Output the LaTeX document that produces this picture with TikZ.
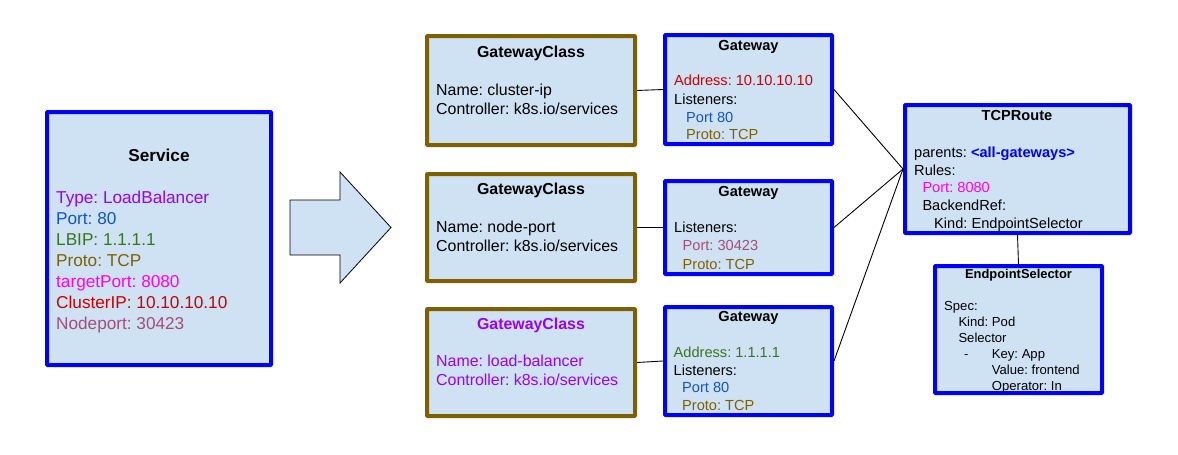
\documentclass[tikz,border=0pt]{standalone}
\usepackage{fontspec}
\setmainfont{Liberation Sans}
\frenchspacing
\newcommand\fSvc{\fontsize{17.2}{21}\selectfont}
\newcommand\fGC{\fontsize{15.9}{19}\selectfont}
\newcommand\fGW{\fontsize{14.6}{18}\selectfont}
\newcommand\fES{\fontsize{13.1}{16}\selectfont}
\newcommand\fESt{\fontsize{12.9}{16}\selectfont}
\definecolor{boxfill}{HTML}{CFE2F3}
\definecolor{bblue}{HTML}{0000FF}
\definecolor{bbrown}{HTML}{7F6000}
\definecolor{tpurple}{HTML}{9900FF}
\definecolor{tblue}{HTML}{1155CC}
\definecolor{tgreen}{HTML}{38761D}
\definecolor{tbrown}{HTML}{7F6000}
\definecolor{tmagenta}{HTML}{FF00FF}
\definecolor{tred}{HTML}{CC0000}
\definecolor{tmauve}{HTML}{A64D79}
\begin{document}
\begin{tikzpicture}[x=1pt,y=-1pt,
  bluebox/.style={draw=bblue, fill=boxfill, line width=4pt, inner sep=0pt, rounded corners=0.8pt},
  brownbox/.style={draw=bbrown, fill=boxfill, line width=4pt, inner sep=0pt, rounded corners=0.8pt},
  txt/.style={anchor=base west, inner sep=0pt},
  ttl/.style={anchor=base, inner sep=0pt, font=\bfseries},
  conn/.style={draw=black, line width=0.9pt}]
\useasboundingbox (0,0) rectangle (1178,455);

% boxes
\node[bluebox, minimum width=224pt, minimum height=253pt] (svc) at (159,238.5) {};
\node[brownbox, minimum width=208pt, minimum height=109pt] (gc1) at (531,90.5) {};
\node[brownbox, minimum width=208pt, minimum height=107pt] (gc2) at (531,227.5) {};
\node[brownbox, minimum width=208pt, minimum height=107pt] (gc3) at (531,362.5) {};
\node[bluebox, minimum width=167pt, minimum height=109pt] (gw1) at (748.5,89.5) {};
\node[bluebox, minimum width=167pt, minimum height=93pt] (gw2) at (748.5,227.5) {};
\node[bluebox, minimum width=167pt, minimum height=108pt] (gw3) at (748.5,361) {};
\node[bluebox, minimum width=225pt, minimum height=128pt] (tcp) at (1017.5,169) {};
\node[bluebox, minimum width=167pt, minimum height=127pt] (eps) at (1018.5,329.5) {};

% big arrow
\draw[fill=boxfill, draw=black, line width=0.8pt, line join=miter]
  (290,200) -- (340,200) -- (340,172) -- (391,227.5) -- (340,283) -- (340,255) -- (290,255) -- cycle;

% connectors
\draw[conn] (gc1.east) -- (gw1.west);
\draw[conn] (gc2.east) -- (gw2.west);
\draw[conn] (gc3.east) -- (gw3.west);
\draw[conn] (gw1.east) -- (tcp.west);
\draw[conn] (gw2.east) -- (tcp.west);
\draw[conn] (gw3.east) -- (tcp.west);
\draw[conn] (tcp.south) -- (eps.north);

% Service text
\node[ttl, font=\fSvc\bfseries] (svct) at (159,161.2) {Service};
\node[txt, font=\fSvc, text=tpurple] (svc1) at (56,203.5) {Type: LoadBalancer};
\node[txt, font=\fSvc, text=tblue] (svc2) at (56,224.5) {Port: 80};
\node[txt, font=\fSvc, text=tgreen] (svc3) at (56,245.5) {LBIP: 1.1.1.1};
\node[txt, font=\fSvc, text=tbrown] (svc4) at (56,266.5) {Proto: TCP};
\node[txt, font=\fSvc, text=tmagenta] (svc5) at (56,287.5) {targetPort: 8080};
\node[txt, font=\fSvc, text=tred] (svc6) at (56,308.5) {ClusterIP: 10.10.10.10};
\node[txt, font=\fSvc, text=tmauve] (svc7) at (56,329.5) {Nodeport: 30423};

% GatewayClass 1
\node[ttl, font=\fGC\bfseries] (gc1t) at (531,57.4) {GatewayClass};
\node[txt, font=\fGC] (gc1a) at (436,95.7) {Name: cluster-ip};
\node[txt, font=\fGC] (gc1b) at (436,114.7) {Controller: k8s.io/services};
% GatewayClass 2
\node[ttl, font=\fGC\bfseries] (gc2t) at (531,194) {GatewayClass};
\node[txt, font=\fGC] (gc2a) at (436,232.4) {Name: node-port};
\node[txt, font=\fGC] (gc2b) at (436,251.4) {Controller: k8s.io/services};
% GatewayClass 3
\node[ttl, font=\fGC\bfseries, text=tpurple] (gc3t) at (531,329) {GatewayClass};
\node[txt, font=\fGC, text=tpurple] (gc3a) at (436,366.7) {Name: load-balancer};
\node[txt, font=\fGC, text=tpurple] (gc3b) at (436,385.7) {Controller: k8s.io/services};

% Gateway 1
\node[ttl, font=\fGW\bfseries] (gw1t) at (748.5,50.2) {Gateway};
\node[txt, font=\fGW, text=tred] (gw1a) at (674,85.9) {Address: 10.10.10.10};
\node[txt, font=\fGW] (gw1b) at (674,104.5) {Listeners:};
\node[txt, font=\fGW, text=tblue] (gw1c) at (686,122.5) {Port 80};
\node[txt, font=\fGW, text=tbrown] (gw1d) at (686,139.5) {Proto: TCP};
% Gateway 2
\node[ttl, font=\fGW\bfseries] (gw2t) at (748.5,196.9) {Gateway};
\node[txt, font=\fGW] (gw2b) at (674,232.5) {Listeners:};
\node[txt, font=\fGW, text=tmauve] (gw2c) at (682.5,250.9) {Port: 30423};
\node[txt, font=\fGW, text=tbrown] (gw2d) at (682.5,269.2) {Proto: TCP};
% Gateway 3
\node[ttl, font=\fGW\bfseries] (gw3t) at (748.5,321.9) {Gateway};
\node[txt, font=\fGW, text=tgreen] (gw3a) at (673.5,357.5) {Address: 1.1.1.1};
\node[txt, font=\fGW] (gw3b) at (673.5,375.9) {Listeners:};
\node[txt, font=\fGW, text=tblue] (gw3c) at (682,392.9) {Port 80};
\node[txt, font=\fGW, text=tbrown] (gw3d) at (682,410.2) {Proto: TCP};

% TCPRoute
\node[ttl, font=\fGW\bfseries] (tcpt) at (1017,120.9) {TCPRoute};
\node[txt, font=\fGW] (tcp1) at (914,157.5) {parents: \textcolor{bblue}{\bfseries <all-gateways>}};
\node[txt, font=\fGW] (tcp2) at (914,175.2) {Rules:};
\node[txt, font=\fGW, text=tmagenta] (tcp3) at (922.3,192.9) {Port: 8080};
\node[txt, font=\fGW] (tcp4) at (922.3,210.9) {BackendRef:};
\node[txt, font=\fGW] (tcp5) at (934,228.5) {Kind: EndpointSelector};

% EndpointSelector
\node[ttl, font=\fESt\bfseries] (epst) at (1018.5,278.7) {EndpointSelector};
\node[txt, font=\fES] (eps1) at (944,310.4) {Spec:};
\node[txt, font=\fES] (eps2) at (958.3,326.4) {Kind: Pod};
\node[txt, font=\fES] (eps3) at (958.3,342.4) {Selector};
\node[txt, font=\fES] (eps4) at (964,358.4) {-};
\node[txt, font=\fES] (eps5) at (991.7,358.4) {Key: App};
\node[txt, font=\fES] (eps6) at (991.7,374.4) {Value: frontend};
\node[txt, font=\fES] (eps7) at (991.7,390.4) {Operator: In};
\end{tikzpicture}
\end{document}
